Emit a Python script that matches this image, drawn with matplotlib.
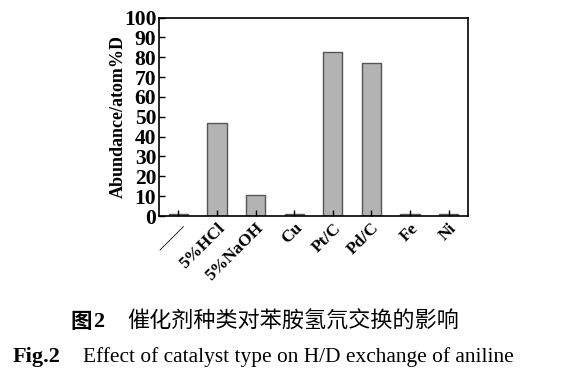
import matplotlib
matplotlib.use("Agg")
import matplotlib.pyplot as plt

categories = ["——", "5%HCl", "5%NaOH", "Cu", "Pt/C", "Pd/C", "Fe", "Ni"]
values = [1, 47, 10.5, 1, 82.5, 77, 1, 1]
yticks = [0, 10, 20, 30, 40, 50, 60, 70, 80, 90, 100]

fig = plt.figure(figsize=(5.7, 3.75), dpi=100)
ax = fig.add_axes([0.279, 0.424, 0.542, 0.529])
x = range(len(categories))
ax.bar(x, values, width=0.5, color="#b3b3b3", edgecolor="#555555", linewidth=1.0)
ax.set_xlim(-0.5, 7.5)
ax.set_ylim(0, 100)
ax.set_yticks(yticks)
ax.set_yticklabels([str(t) for t in yticks], fontfamily="Liberation Serif",
                   fontweight="bold", fontsize=15.5)
ax.set_xticks(list(x))
ax.set_xticklabels(categories, rotation=45, ha="right", rotation_mode="anchor",
                   fontfamily="Liberation Serif", fontweight="bold", fontsize=12.5)
ax.tick_params(direction="in", length=4, width=1, pad=3)
ax.tick_params(axis="y", pad=2)
for s in ax.spines.values():
    s.set_linewidth(1.2)
ax.set_ylabel("Abundance/atom%D", fontfamily="Liberation Serif",
              fontweight="bold", fontsize=13, labelpad=-2)

cjk = ["Noto Sans CJK SC", "DejaVu Sans"]
fig.text(70 / 570, 1 - 322 / 375, "图", ha="left", va="center",
         fontsize=15.5, fontweight="bold", family=cjk)
fig.text(93 / 570, 1 - 322 / 375, "2", ha="left", va="center",
         fontsize=16, fontweight="bold", family="Liberation Serif")
fig.text(127 / 570, 1 - 322 / 375, "催化剂种类对苯胺氢氘交换的影响", ha="left", va="center",
         fontsize=15.9, family=cjk)
fig.text(13 / 570, 1 - 357 / 375, "Fig.2", ha="left", va="center",
         fontsize=16, fontweight="bold", family="Liberation Serif")
fig.text(83 / 570, 1 - 357 / 375, "Effect of catalyst type on H/D exchange of aniline",
         ha="left", va="center", fontsize=15.4, family="Liberation Serif")

fig.savefig("out.png", dpi=100)
